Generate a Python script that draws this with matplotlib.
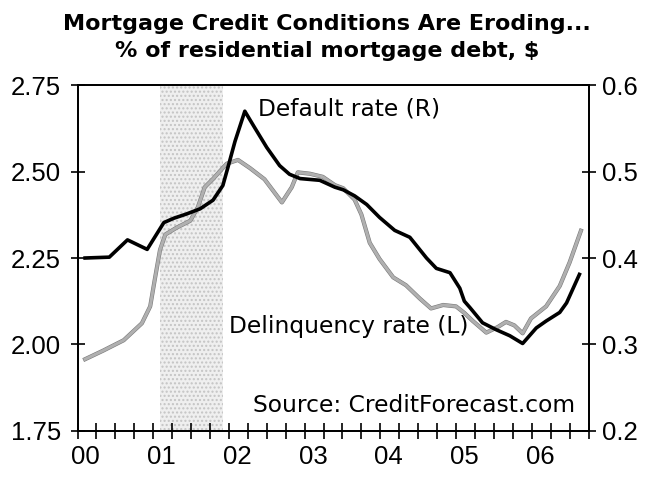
import numpy as np
import matplotlib.pyplot as plt
import matplotlib.patheffects as pe

plt.rcParams['font.family'] = ['Liberation Sans', 'DejaVu Sans']

# Default rate (R), x in decimal years
default_x = [2000.10, 2000.42, 2000.66, 2000.92, 2001.14, 2001.27, 2001.44, 2001.62, 2001.79,
             2001.92, 2001.99, 2002.08, 2002.21, 2002.34, 2002.50, 2002.67, 2002.80, 2002.94,
             2003.20, 2003.40, 2003.51, 2003.66, 2003.82, 2003.99, 2004.19, 2004.39, 2004.61,
             2004.74, 2004.92, 2005.05, 2005.11, 2005.18, 2005.35, 2005.53, 2005.71, 2005.88,
             2006.06, 2006.19, 2006.37, 2006.46, 2006.63]
default_y = [0.400, 0.401, 0.421, 0.410, 0.441, 0.446, 0.451, 0.457, 0.467,
             0.484, 0.506, 0.535, 0.570, 0.551, 0.528, 0.507, 0.497, 0.492,
             0.490, 0.482, 0.479, 0.472, 0.462, 0.447, 0.432, 0.424, 0.400,
             0.388, 0.383, 0.365, 0.350, 0.343, 0.325, 0.317, 0.310, 0.301,
             0.319, 0.327, 0.337, 0.348, 0.381]

# Delinquency rate (L)
delinq_x = [2000.10, 2000.34, 2000.61, 2000.85, 2000.96, 2001.02, 2001.09, 2001.16, 2001.31,
            2001.49, 2001.59, 2001.68, 2001.79, 2001.97, 2002.12, 2002.28, 2002.47, 2002.70,
            2002.83, 2002.91, 2003.07, 2003.24, 2003.40, 2003.51, 2003.66, 2003.75, 2003.86,
            2003.99, 2004.17, 2004.34, 2004.52, 2004.67, 2004.83, 2005.00, 2005.11, 2005.22,
            2005.40, 2005.55, 2005.66, 2005.77, 2005.88, 2005.99, 2006.19, 2006.37, 2006.50,
            2006.65]
delinq_y = [1.957, 1.982, 2.012, 2.061, 2.110, 2.187, 2.274, 2.318, 2.338,
            2.358, 2.397, 2.455, 2.479, 2.523, 2.534, 2.510, 2.478, 2.411,
            2.455, 2.498, 2.494, 2.485, 2.461, 2.452, 2.419, 2.376, 2.294,
            2.247, 2.194, 2.171, 2.133, 2.104, 2.114, 2.110, 2.091, 2.068,
            2.034, 2.050, 2.065, 2.055, 2.032, 2.075, 2.110, 2.169, 2.237,
            2.329]

recession = (2001.09, 2001.92)
years = [2000, 2001, 2002, 2003, 2004, 2005, 2006]
year_labels = ['00', '01', '02', '03', '04', '05', '06']
left_ticks = [1.75, 2.00, 2.25, 2.50, 2.75]
right_ticks = [0.2, 0.3, 0.4, 0.5, 0.6]

fig = plt.figure(figsize=(6.46, 4.82), dpi=100)
ax = fig.add_axes([0.120, 0.1064, 0.791, 0.7166])
ax2 = ax.twinx()

ax.axvspan(recession[0], recession[1], facecolor='#efefef', edgecolor='#c4c4c4',
           hatch='....', linewidth=0, zorder=0)

ax.plot(delinq_x, delinq_y, color='#b0b0b0', linewidth=2.2, zorder=3,
        path_effects=[pe.Stroke(linewidth=3.0, foreground='#7a7a7a'), pe.Normal()])
ax2.plot(default_x, default_y, color='black', linewidth=2.6, zorder=4)

ax.set_xlim(2000, 2006.75)
ax.set_ylim(1.75, 2.75)
ax2.set_ylim(0.2, 0.6)

ax.set_yticks(left_ticks)
ax.set_yticklabels(['%.2f' % v for v in left_ticks])
ax2.set_yticks(right_ticks)
ax2.set_yticklabels(['%.1f' % v for v in right_ticks])

quarters = 2000 + np.arange(0, 28) / 4
ax.set_xticks(quarters)
ax.set_xticklabels([''] * len(quarters))
ax.set_xticks([y + 0.11 for y in years], minor=True)
ax.set_xticklabels(year_labels, minor=True)

ax.tick_params(axis='x', which='major', direction='inout', length=11, width=1.2, color='black')
ax.tick_params(axis='x', which='minor', length=0, pad=10, labelsize=18.5)
ax.tick_params(axis='y', direction='inout', length=10, width=1.2, pad=7, labelsize=18.5)
ax2.tick_params(axis='y', direction='inout', length=10, width=1.2, pad=5, labelsize=18.5)

for a in (ax, ax2):
    for s in a.spines.values():
        s.set_linewidth(1.3)

note_font = dict(fontsize=16.8, family='DejaVu Sans', ha='left', va='center')
ax.text(0.353, 0.930, 'Default rate (R)', transform=ax.transAxes, **note_font)
ax.text(0.296, 0.301, 'Delinquency rate (L)', transform=ax.transAxes, **note_font)
ax.text(0.343, 0.074, 'Source: CreditForecast.com', transform=ax.transAxes, **note_font)

fig.text(0.506, 0.951, 'Mortgage Credit Conditions Are Eroding...', ha='center', va='center',
         fontsize=16, fontweight='bold', family='DejaVu Sans')
fig.text(0.506, 0.895, '% of residential mortgage debt, $', ha='center', va='center',
         fontsize=16, fontweight='bold', family='DejaVu Sans')

plt.savefig('out.png', dpi=100)
